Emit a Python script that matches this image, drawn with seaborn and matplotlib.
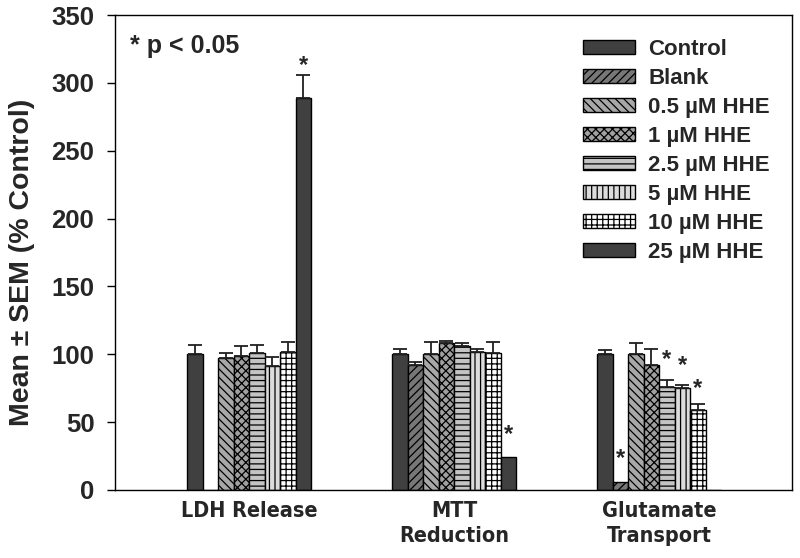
import matplotlib

matplotlib.use("Agg")
import matplotlib.patches as mpatches
import matplotlib.pyplot as plt
import numpy as np
import pandas as pd
import seaborn as sns
from matplotlib import font_manager

assays = ["LDH Release", "MTT\nReduction", "Glutamate\nTransport"]
treatments = [
    "Control",
    "Blank",
    "0.5 µM HHE",
    "1 µM HHE",
    "2.5 µM HHE",
    "5 µM HHE",
    "10 µM HHE",
    "25 µM HHE",
]

# mean values (% control), one list per assay, in treatment order
ldh_mean = [100, 0, 97, 99, 101, 91, 102, 289]
mtt_mean = [100, 92, 100, 108, 106, 102, 101, 24]
glu_mean = [100, 6, 100, 92, 76, 75, 59, 0]

# upper SEM
ldh_sem = [7, 0, 4, 7, 6, 7, 7, 17]
mtt_sem = [4, 2, 9, 2, 2, 2, 8, 0]
glu_sem = [3, 0, 8, 12, 5, 2, 4, 0]

# significance markers: (assay, treatment, y position)
stars = [
    ("LDH Release", "25 µM HHE", 313),
    ("MTT\nReduction", "25 µM HHE", 41),
    ("Glutamate\nTransport", "Blank", 23),
    ("Glutamate\nTransport", "2.5 µM HHE", 96),
    ("Glutamate\nTransport", "5 µM HHE", 92),
    ("Glutamate\nTransport", "10 µM HHE", 75),
]

styles = {
    "Control": dict(facecolor="#404040", hatch=""),
    "Blank": dict(facecolor="#777777", hatch="////"),
    "0.5 µM HHE": dict(facecolor="#a8a8a8", hatch="\\\\\\\\"),
    "1 µM HHE": dict(facecolor="#a0a0a0", hatch="xxxx"),
    "2.5 µM HHE": dict(facecolor="#c4c4c4", hatch="---"),
    "5 µM HHE": dict(facecolor="#dcdcdc", hatch="|||"),
    "10 µM HHE": dict(facecolor="#ffffff", hatch="+++"),
    "25 µM HHE": dict(facecolor="#404040", hatch=""),
}

rows = []
for assay, means, sems in zip(assays, [ldh_mean, mtt_mean, glu_mean], [ldh_sem, mtt_sem, glu_sem]):
    for t, m, s in zip(treatments, means, sems):
        rows.append({"assay": assay, "treatment": t, "mean": m, "sem": s})
df = pd.DataFrame(rows)

sns.set_theme(style="ticks")
plt.rcParams["font.family"] = ["Liberation Sans", "DejaVu Sans"]
plt.rcParams["font.weight"] = "bold"
plt.rcParams["hatch.linewidth"] = 0.9


def find_condensed():
    # look for a bold narrow / condensed face for the category labels
    for f in font_manager.fontManager.ttflist:
        name = f.name + " " + str(f.fname)
        bold = f.weight in ("bold", 700) or "Bold" in str(f.fname)
        narrow = ("Narrow" in name or "Condensed" in name or f.stretch == "condensed")
        if bold and narrow and "Oblique" not in f.fname and "Italic" not in f.fname:
            return font_manager.FontProperties(fname=f.fname, size=15.5)
    return None


cond = find_condensed()

fig = plt.figure(figsize=(8, 5.58), dpi=100)
ax = fig.add_axes([0.144, 0.122, 0.846, 0.851])

width = 0.605
sns.barplot(
    data=df,
    x="assay",
    y="mean",
    hue="treatment",
    order=assays,
    hue_order=treatments,
    width=width,
    errorbar=None,
    ax=ax,
    legend=False,
    linewidth=1,
    edgecolor="black",
)

centers = {}
for treatment, container in zip(treatments, ax.containers):
    st = styles[treatment]
    for assay, bar in zip(assays, container):
        bar.set_facecolor(st["facecolor"])
        bar.set_hatch(st["hatch"])
        bar.set_edgecolor("black")
        cx = bar.get_x() + bar.get_width() / 2
        centers[(assay, treatment)] = cx
        row = df[(df.assay == assay) & (df.treatment == treatment)].iloc[0]
        if row["sem"] > 0:
            ax.errorbar(
                cx,
                row["mean"],
                yerr=[[0], [row["sem"]]],
                color="#202020",
                capsize=5.2,
                elinewidth=1.3,
                capthick=1.3,
                zorder=1,
            )

for assay, treatment, y in stars:
    ax.text(centers[(assay, treatment)], y, "*", ha="center", va="center",
            fontsize=17, fontweight="bold")

ax.text(0.022, 0.935, "* p < 0.05", transform=ax.transAxes, fontsize=18,
        fontweight="bold", ha="left", va="center")

ax.set_xlim(-0.654, 2.649)
ax.set_ylim(0, 350)
ax.set_yticks(np.arange(0, 351, 50))
ax.tick_params(axis="y", labelsize=18.5, direction="out", length=6, width=1,
               color="black", pad=9)
ax.tick_params(axis="x", length=0, pad=8)
for lab in ax.get_yticklabels():
    lab.set_fontweight("bold")
for lab in ax.get_xticklabels():
    if cond is not None:
        lab.set_fontproperties(cond)
    else:
        lab.set_fontweight("bold")
        lab.set_fontsize(15.5)
    lab.set_linespacing(1.32)
ax.set_xlabel("")
ax.set_ylabel("Mean ± SEM (% Control)", fontsize=20.5, fontweight="bold", va="center")
ax.yaxis.set_label_coords(-0.138, 0.48)
for sp in ax.spines.values():
    sp.set_visible(True)
    sp.set_color("black")
    sp.set_linewidth(1)

handles = [
    mpatches.Patch(facecolor=styles[t]["facecolor"], hatch=styles[t]["hatch"],
                   edgecolor="black", linewidth=1, label=t)
    for t in treatments
]
ax.legend(handles=handles, loc="upper left", frameon=False,
          prop={"weight": "bold", "size": 16}, handlelength=2.35, handleheight=0.6,
          labelspacing=0.36, handletextpad=0.6, borderpad=0, borderaxespad=0,
          bbox_to_anchor=(0.691, 0.95))

fig.savefig("out.png", dpi=100)
